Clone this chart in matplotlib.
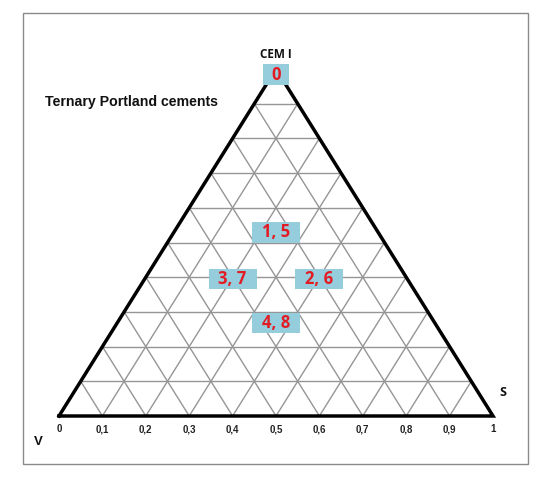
import matplotlib
matplotlib.use("Agg")
import matplotlib.pyplot as plt
from matplotlib.patches import Rectangle
import numpy as np

# ---- data ----
title = "Ternary Portland cements"
apex_label = "CEM I"
right_label = "S"
left_label = "V"
tick_values = [0, 0.1, 0.2, 0.3, 0.4, 0.5, 0.6, 0.7, 0.8, 0.9, 1]
tick_labels = ["0", "0,1", "0,2", "0,3", "0,4", "0,5", "0,6", "0,7", "0,8", "0,9", "1"]
grid_levels = [0.1, 0.2, 0.3, 0.4, 0.5, 0.6, 0.7, 0.8, 0.9]
mix_labels = ["0", "1, 5", "3, 7", "2, 6", "4, 8"]
mix_cem = [1.0, 0.5, 0.4, 0.4, 0.3]     # CEM I fraction
mix_s = [0.0, 0.25, 0.2, 0.4, 0.35]     # S fraction
mix_place = ["center", "above", "center", "center", "below"]

W, H = 550, 483
fig = plt.figure(figsize=(W / 100, H / 100), dpi=100)
fig.patch.set_facecolor("white")

# triangle placement in pixels
x0p, x1p, ybp, ytp = 59, 493, 416, 69
ax = fig.add_axes([x0p / W, (H - ybp) / H, (x1p - x0p) / W, (ybp - ytp) / H])
ax.set_xlim(0, 1)
ax.set_ylim(0, 1)
ax.axis("off")

def tern(s, cem):
    return s + cem / 2.0, cem

grid_kw = dict(color="#959595", lw=1.0, zorder=1)
for g in grid_levels:
    # horizontal (constant CEM I)
    xa, ya = tern(0, g)
    xb, yb = tern(1 - g, g)
    ax.plot([xa, xb], [ya, yb], **grid_kw)
    # constant S
    xa, ya = tern(g, 0)
    xb, yb = tern(g, 1 - g)
    ax.plot([xa, xb], [ya, yb], **grid_kw)
    # constant V
    xa, ya = tern(g, 0)
    xb, yb = tern(0, g)
    ax.plot([xa, xb], [ya, yb], **grid_kw)

# triangle outline
cx = [tern(0, 0)[0], tern(1, 0)[0], tern(0, 1)[0], tern(0, 0)[0]]
cy = [tern(0, 0)[1], tern(1, 0)[1], tern(0, 1)[1], tern(0, 0)[1]]
ax.plot(cx, cy, color="black", lw=2.5, zorder=3, solid_joinstyle="miter", clip_on=False)

# bottom tick labels
for v, lab in zip(tick_values, tick_labels):
    ax.text(v, -0.038, lab, ha="center", va="center", fontsize=7,
            fontweight="bold", family="Liberation Sans", color="#222222", clip_on=False)

# mix boxes
bw, bh = 0.111, 0.058
bw0 = 0.058
for lab, c, s, pl in zip(mix_labels, mix_cem, mix_s, mix_place):
    x, y = tern(s, c)
    w = bw0 if len(lab) == 1 else bw
    if pl == "above":
        yc = y + bh / 2
    elif pl == "below":
        yc = y - bh / 2 - 0.004
    else:
        yc = y - 0.016 if c == 1.0 else y - 0.005
    ax.add_patch(Rectangle((x - w / 2, yc - bh / 2), w, bh, facecolor="#95cddc",
                           edgecolor="none", zorder=4, clip_on=False))
    ax.text(x, yc, lab, ha="center", va="center", fontsize=12, fontweight="bold",
            family="Open Sans", color="#e31b23", zorder=5, clip_on=False)

# corner labels
fig.text(276 / W, 1 - 55 / H, apex_label, ha="center", va="center", fontsize=8.5,
         fontweight="bold", family="Open Sans", color="#111111")
fig.text(503 / W, 1 - 393 / H, right_label, ha="center", va="center", fontsize=9,
         fontweight="bold", family="Open Sans", color="#111111")
fig.text(38 / W, 1 - 442 / H, left_label, ha="center", va="center", fontsize=9.5,
         fontweight="bold", family="Liberation Sans", color="#111111")

# title
fig.text(45 / W, 1 - 102 / H, title, ha="left", va="center", fontsize=10.2,
         fontweight="bold", family="Liberation Sans", color="#111111")

# outer frame
fig.patches.append(Rectangle((23 / W, (H - 464) / H), (528 - 23) / W, (464 - 13) / H,
                             transform=fig.transFigure, fill=False,
                             edgecolor="#8a8a8a", lw=1.0))

fig.savefig("out.png", dpi=100)
